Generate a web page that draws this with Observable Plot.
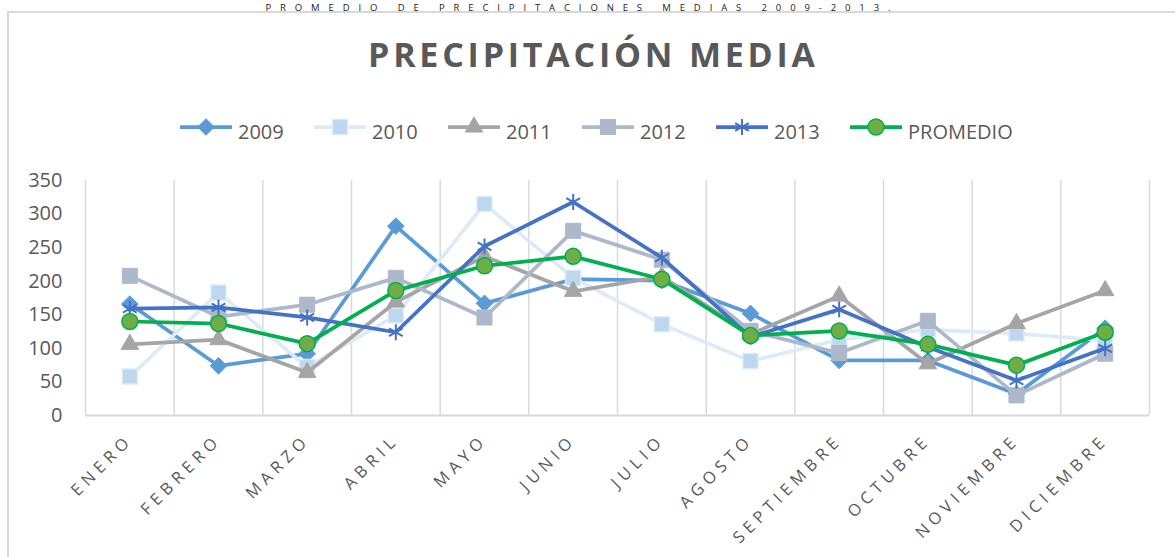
<!DOCTYPE html>
<html><head><meta charset="utf-8">
<script src="https://cdn.jsdelivr.net/npm/d3@7"></script>
<script src="https://cdn.jsdelivr.net/npm/@observablehq/plot@0.6"></script>
<style>
html,body{margin:0;padding:0;background:#fff;}
#wrap{position:relative;width:1175px;height:557px;overflow:hidden;font-family:"Open Sans",sans-serif;}
#frame{position:absolute;left:7px;top:11px;width:1300px;height:700px;border:2px solid #D9D9D9;box-sizing:border-box;}
#head{position:absolute;left:0;top:0;}
#chart{position:absolute;left:0;top:150px;}
#chart g[aria-label="x-axis tick label"] text{letter-spacing:5px;}
</style></head><body>
<div id="wrap"><div id="frame"></div><svg id="head" width="1175" height="150"></svg><div id="chart"></div></div>
<script>
const months = ["ENERO","FEBRERO","MARZO","ABRIL","MAYO","JUNIO","JULIO","AGOSTO","SEPTIEMBRE","OCTUBRE","NOVIEMBRE","DICIEMBRE"];
const seriesNames = ["2009","2010","2011","2012","2013","PROMEDIO"];
const v2009 = [166, 74, 92, 282, 167, 203, 201, 152, 82, 82, 32, 130];
const v2010 = [58, 183, 72, 149, 315, 205, 136, 81, 113, 128, 122, 112];
const v2011 = [106, 113, 64, 169, 237, 185, 207, 121, 178, 77, 137, 186];
const v2012 = [208, 147, 165, 205, 146, 275, 232, 126, 93, 141, 30, 92];
const v2013 = [159, 161, 146, 124, 252, 318, 235, 117, 158, 102, 52, 100];
const vProm = [140, 137, 107, 186, 223, 237, 203, 119, 126, 106, 75, 124];
const yTicks = [0, 50, 100, 150, 200, 250, 300, 350];
const headText = "PROMEDIO DE PRECIPITACIONES MEDIAS 2009-2013.";
const titleText = "PRECIPITACIÓN MEDIA";

const values = [v2009, v2010, v2011, v2012, v2013, vProm];
const styles = [
  {line:"#5B9BD5", symbol:"diamond2", fill:"#5B9BD5", stroke:"#5B9BD5", sw:1, r:7.5},
  {line:"#DEEBF7", symbol:"square", fill:"#BDD7EE", stroke:"#DEEBF7", sw:1.5, r:8.5},
  {line:"#A5A5A5", symbol:"triangle", fill:"#A5A5A5", stroke:"#A5A5A5", sw:1, r:6.5},
  {line:"#ADB9CA", symbol:"square", fill:"#ADB9CA", stroke:"#ADB9CA", sw:1, r:8.5},
  {line:"#4472C4", symbol:"asterisk", fill:"none", stroke:"#4472C4", sw:2, r:7.5},
  {line:"#00B050", symbol:"circle", fill:"#70AD47", stroke:"#00B050", sw:1.5, r:8}
];
const rows = seriesNames.flatMap((s, k) => values[k].map((v, i) => ({serie: s, i, v})));

const marks = [
  Plot.ruleX(d3.range(months.length + 1).map(k => k - 0.5), {stroke:"#D9D9D9", strokeWidth:1.5}),
  Plot.ruleY([0], {stroke:"#D9D9D9", strokeWidth:2}),
  Plot.axisY({ticks: yTicks, tickSize: 0, tickPadding: 23, fontSize: 20, tickFormat: d => d, label: null}),
  Plot.axisX({ticks: d3.range(months.length), tickFormat: i => months[i], tickRotate: -45, tickSize: 0, tickPadding: 22, fontSize: 16.5, label: null})
];
seriesNames.forEach((s, k) => {
  const st = styles[k];
  const d = rows.filter(r => r.serie === s);
  marks.push(Plot.line(d, {x:"i", y:"v", stroke: st.line, strokeWidth: 3.75, strokeLinejoin:"round", strokeLinecap:"round"}));
  marks.push(Plot.dot(d, {x:"i", y:"v", symbol: st.symbol, r: st.r, fill: st.fill, stroke: st.stroke, strokeWidth: st.sw}));
});

const chart = Plot.plot({
  width: 1175, height: 407,
  marginLeft: 85, marginRight: 26, marginTop: 30, marginBottom: 142,
  x: {type: "linear", domain: [-0.5, months.length - 0.5], label: null},
  y: {domain: [0, 350], label: null},
  style: {fontFamily: '"Open Sans", sans-serif', color: "#595959", background: "transparent", overflow: "visible"},
  marks
});
document.getElementById("chart").appendChild(chart);

// header, title and legend
const head = d3.select("#head");
head.append("text").attr("x", 578).attr("y", 10.5).attr("text-anchor", "middle")
  .attr("font-family", '"Open Sans", sans-serif').attr("font-size", 9.5).attr("fill", "#222")
  .attr("textLength", 625).attr("lengthAdjust", "spacing").text(headText);
head.append("text").attr("x", 591.5).attr("y", 67).attr("text-anchor", "middle")
  .attr("font-family", '"Open Sans", sans-serif').attr("font-weight", 700).attr("font-size", 34).attr("fill", "#595959")
  .attr("textLength", 447).attr("lengthAdjust", "spacing").text(titleText);
const symMap = {diamond2: d3.symbolDiamond2, square: d3.symbolSquare, triangle: d3.symbolTriangle, asterisk: d3.symbolAsterisk, circle: d3.symbolCircle};
seriesNames.forEach((s, k) => {
  const st = styles[k];
  const x0 = 180 + 134 * k;
  const g = head.append("g");
  g.append("line").attr("x1", x0).attr("x2", x0 + 52).attr("y1", 127).attr("y2", 127)
    .attr("stroke", st.line).attr("stroke-width", 3.75);
  g.append("path").attr("transform", `translate(${x0 + 26},127)`)
    .attr("d", d3.symbol(symMap[st.symbol], Math.PI * st.r * st.r)())
    .attr("fill", st.fill).attr("stroke", st.stroke).attr("stroke-width", st.sw);
  g.append("text").attr("x", x0 + 58).attr("y", 134).attr("dominant-baseline", "middle")
    .attr("font-family", '"Open Sans", sans-serif').attr("font-size", 20).attr("fill", "#595959").text(s);
});
</script></body></html>
